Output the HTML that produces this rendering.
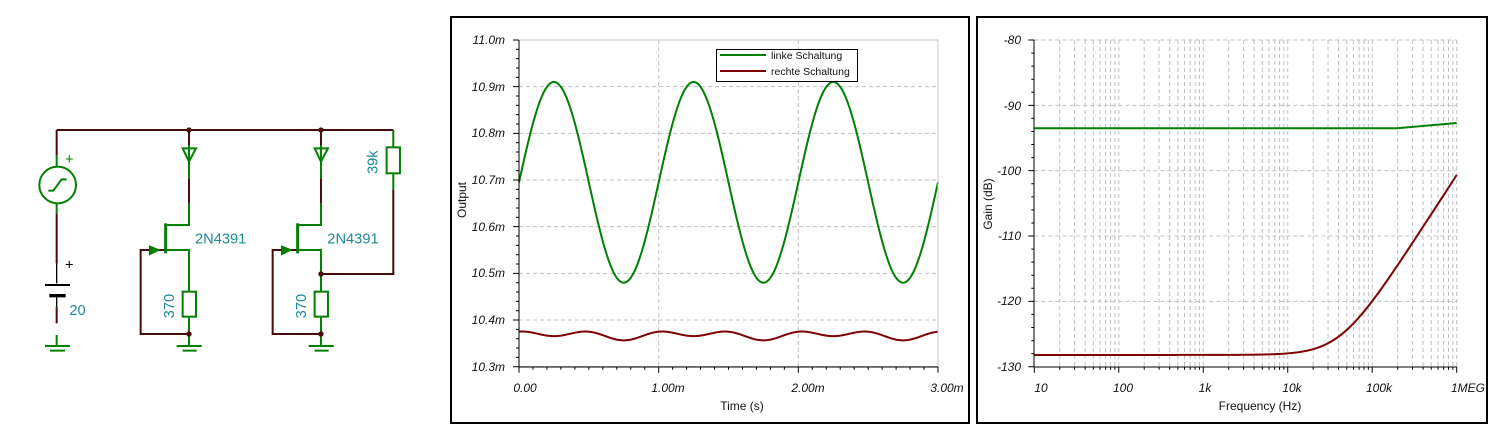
<!DOCTYPE html>
<html><head><meta charset="utf-8"><style>
html,body{margin:0;padding:0;background:#fff;width:1510px;height:439px;overflow:hidden}
svg{position:absolute;left:0;top:0}
text{font-family:"Liberation Sans",sans-serif}
.tl{font-size:12px;font-style:italic;fill:#111}
.sc{font-family:"Liberation Sans",sans-serif;fill:#1a8a9a}
</style></head><body>
<svg width="1510" height="439" viewBox="0 0 1510 439" xmlns="http://www.w3.org/2000/svg">
<!-- schematic -->
<g transform="translate(0,110) scale(0.3333)" fill="none" stroke-width="6">
 <g stroke="#4a0a0a">
  <path d="M170 60H1180"/>
  <path d="M170 60V135M170 310V460M170 590V640"/>
  <path d="M567 60V105M567 205V280"/>
  <path d="M963 60V105M963 205V280"/>
  <path d="M1180 240V492H963"/>
  <path d="M497 420H422V672H567"/>
  <path d="M893 420H818V672H963"/>
 </g>
 <g stroke="#008000">
  <path d="M170 135V170M170 280V310M170 675V705"/>
  <circle cx="173" cy="225" r="55"/>
  <path d="M145 242H160L185 208H200"/>
  <path d="M135 708H210M150 722H195" />
  <path d="M1180 60V112M1180 190V240"/>
  <rect x="1160" y="112" width="40" height="78"/>
  <path d="M567 105V205M548 115L567 155L588 115Z"/>
  <path d="M567 280V345H497"/>
  <path d="M497 340V430" stroke-width="9"/>
  <path d="M497 420H567V545M567 620V672M567 672V705"/>
  <path d="M450 410L475 420L450 432Z" fill="#008000"/>
  <rect x="548" y="545" width="40" height="75"/>
  <path d="M530 708H605M548 722H590"/>
  <path d="M963 105V205M944 115L963 155L984 115Z"/>
  <path d="M963 280V345H893"/>
  <path d="M893 340V430" stroke-width="9"/>
  <path d="M893 420H963V545M963 620V705"/>
  <path d="M846 410L871 420L846 432Z" fill="#008000"/>
  <rect x="944" y="545" width="40" height="75"/>
  <path d="M926 708H1001M944 722H986"/>
 </g>
 <g stroke="#000"><path d="M135 525H210"/><path d="M148 557H197" stroke-width="10"/><path d="M170 460V520M170 562V590" stroke-width="4"/></g>
 <g fill="#4a0a0a" stroke="none">
  <circle cx="567" cy="60" r="8"/><circle cx="963" cy="60" r="8"/>
  <circle cx="567" cy="672" r="8"/><circle cx="963" cy="672" r="8"/><circle cx="963" cy="492" r="8"/>
 </g>
 <g font-size="44" class="sc" stroke="none">
  <text x="585" y="400">2N4391</text><text x="982" y="400">2N4391</text>
  <text x="208" y="615">20</text>
  <text transform="translate(522,625) rotate(-90)">370</text>
  <text transform="translate(918,625) rotate(-90)">370</text>
  <text transform="translate(1133,192) rotate(-90)">39k</text>
  <text x="195" y="162" style="fill:#008000">+</text>
  <text x="195" y="478" style="fill:#000">+</text>
 </g>
</g>

<!-- chart 1 -->
<rect x="451" y="17" width="518" height="406" fill="none" stroke="#000" stroke-width="2"/>
<g id="g1"></g>
<rect x="519" y="40" width="419" height="326.5" fill="none" stroke="#c8c8c8"/>
<path d="M519 40V367H938" stroke="#000" fill="none"/>
<g class="tl" text-anchor="end">
<text x="505" y="44">11.0m</text><text x="505" y="91">10.9m</text><text x="505" y="137">10.8m</text>
<text x="505" y="184">10.7m</text><text x="505" y="231">10.6m</text><text x="505" y="277">10.5m</text>
<text x="505" y="324">10.4m</text><text x="505" y="371">10.3m</text></g>
<g class="tl" text-anchor="middle">
<text x="525" y="392">0.00</text><text x="668" y="392">1.00m</text><text x="808" y="392">2.00m</text><text x="947" y="392">3.00m</text></g>
<text x="742" y="410" font-size="12" text-anchor="middle" fill="#111">Time (s)</text>
<text transform="translate(466,200) rotate(-90)" font-size="12" text-anchor="middle" fill="#111">Output</text>
<rect x="716.5" y="49.5" width="141" height="32" fill="#fff" stroke="#000"/>
<path d="M720 55H766" stroke="#008000" stroke-width="2"/><path d="M720 71H766" stroke="#800000" stroke-width="2"/>
<text x="771" y="59" font-size="10.5" fill="#111">linke Schaltung</text>
<text x="771" y="75" font-size="10.5" fill="#111">rechte Schaltung</text>

<!-- chart 2 -->
<rect x="977" y="17" width="510" height="406" fill="none" stroke="#000" stroke-width="2"/>
<g id="g2"></g>
<path d="M1034 40V367H1457" stroke="#000" fill="none"/>
<g class="tl" text-anchor="end">
<text x="1021" y="44">-80</text><text x="1021" y="110">-90</text><text x="1021" y="175">-100</text>
<text x="1021" y="240">-110</text><text x="1021" y="305">-120</text><text x="1021" y="371">-130</text></g>
<g class="tl" text-anchor="middle">
<text x="1041" y="392">10</text><text x="1123" y="392">100</text><text x="1205" y="392">1k</text>
<text x="1292" y="392">10k</text><text x="1379" y="392">100k</text><text x="1485" y="392" text-anchor="end">1MEG</text></g>
<text x="1260" y="410" font-size="12" text-anchor="middle" fill="#111">Frequency (Hz)</text>
<text transform="translate(992,204) rotate(-90)" font-size="12" text-anchor="middle" fill="#111">Gain (dB)</text>

<script>
var NS="http://www.w3.org/2000/svg";
function el(p,t,a){var e=document.createElementNS(NS,t);for(var k in a)e.setAttribute(k,a[k]);p.appendChild(e);return e;}
var g1=document.getElementById("g1"),g2=document.getElementById("g2");
var X0=519,X1=938,Y0=40,Y1=366.7;
function ym(v){return Y1-(v-10.3)/0.7*(Y1-Y0);}
function xt(t){return X0+t/3*(X1-X0);}
var d="";
for(var i=1;i<7;i++){var y=Y0+i*(Y1-Y0)/7;d+="M"+X0+" "+y+"H"+X1;}
for(var i=1;i<3;i++){var x=xt(i);d+="M"+x+" "+Y0+"V"+Y1;}
el(g1,"path",{d:d,stroke:"#c0c0c0","stroke-dasharray":"4,3",fill:"none"});
d="";
for(var i=0;i<=35;i++){var y=Y0+i*(Y1-Y0)/35;d+="M"+(X0-(i%5?3:6))+" "+y+"H"+X0;}
for(var i=0;i<=30;i++){var x=xt(i/10);d+="M"+x+" "+Y1+"v"+(i%10?3:6);}
el(g1,"path",{d:d,stroke:"#000",fill:"none"});
var pg="",pr="";
for(var i=0;i<=600;i++){var t=i/200;var x=xt(t).toFixed(2);
 pg+=(i?"L":"M")+x+" "+ym(10.695+0.215*Math.sin(2*Math.PI*t)).toFixed(2);
 pr+=(i?"L":"M")+x+" "+ym(10.368+0.0045*Math.sin(2*Math.PI*t)+0.007*Math.cos(4*Math.PI*t)).toFixed(2);}
el(g1,"path",{d:pg,stroke:"#008000","stroke-width":2,fill:"none"});
el(g1,"path",{d:pr,stroke:"#800000","stroke-width":2,fill:"none"});
var A0=1034.3,A1=1456.7;
function xf(f){return A0+(Math.log10(f)-1)/5*(A1-A0);}
function yd(v){return Y0+(-80-v)/50*(Y1-Y0);}
d="";
for(var dec=1;dec<6;dec++)for(var m=1;m<10;m++){if(m==1&&dec==1)continue;var x=xf(m*Math.pow(10,dec));d+="M"+x+" "+Y0+"V"+Y1;}
var x=xf(1e6);d+="M"+x+" "+Y0+"V"+Y1;
for(var i=1;i<5;i++){var y=yd(-80-10*i);d+="M"+A0+" "+y+"H"+A1;}
d+="M"+A0+" "+Y0+"H"+A1;
el(g2,"path",{d:d,stroke:"#c0c0c0","stroke-dasharray":"4,3",fill:"none"});
d="";
for(var i=0;i<=25;i++){var y=yd(-80-2*i);d+="M"+(A0-(i%5?3:6))+" "+y+"H"+A0;}
for(var dec=1;dec<6;dec++)for(var m=1;m<10;m++){var x=xf(m*Math.pow(10,dec));d+="M"+x+" "+Y1+"v"+(m==1?6:3);}
d+="M"+xf(1e6)+" "+Y1+"v6";
el(g2,"path",{d:d,stroke:"#000",fill:"none"});
pg="";pr="";
for(var i=0;i<=400;i++){var f=Math.pow(10,1+5*i/400);var x=xf(f).toFixed(2);
 var gv=-93.5+(f>2e5?0.8*Math.log10(f/2e5)/Math.log10(5):0);
 pg+=(i?"L":"M")+x+" "+yd(gv).toFixed(2);
 pr+=(i?"L":"M")+x+" "+yd(-128.2+10*Math.log10(1+Math.pow(f/42000,2))).toFixed(2);}
el(g2,"path",{d:pg,stroke:"#008000","stroke-width":2,fill:"none"});
el(g2,"path",{d:pr,stroke:"#800000","stroke-width":2,fill:"none"});
</script>
</svg>
</body></html>
